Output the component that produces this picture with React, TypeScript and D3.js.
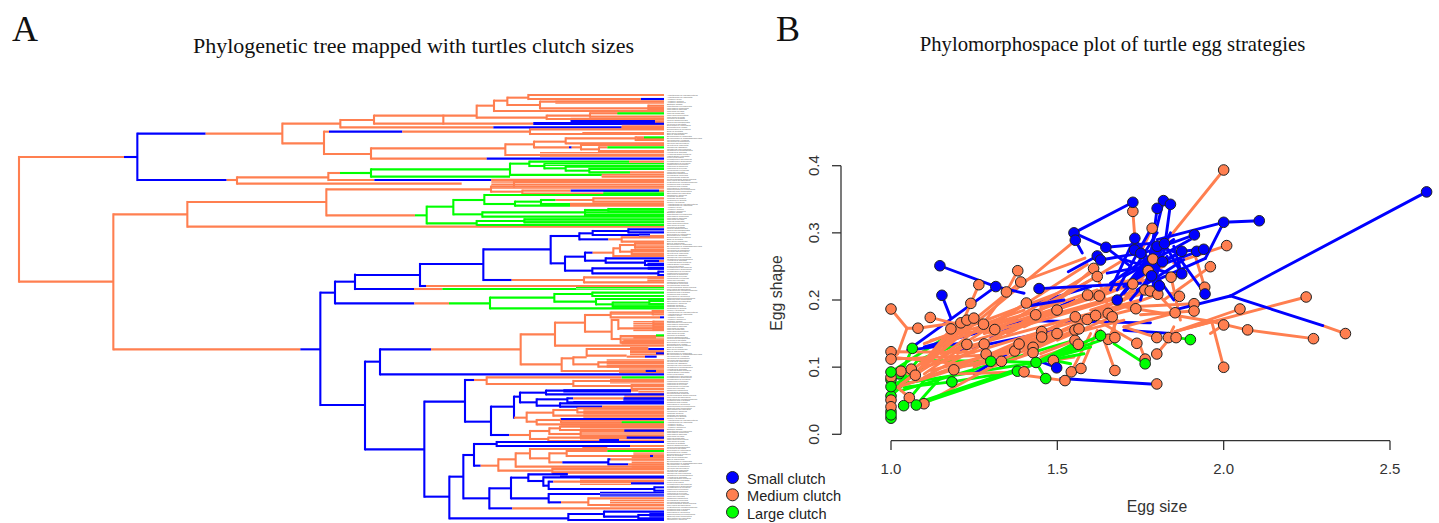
import React from "react";
import * as d3 from "d3";

type H = [number, number, number, string];
type V = [number, number, number, string];
type B = [number, number, number, number, string];
type E = [number, number, number, number];

const colors: Record<string, string> = { b: "#0000ff", o: "#ff7f50", g: "#00ff00" };

// --- Phylogeny: [row, depthStart, depthEnd, state] and [depth, rowStart, rowEnd, state]
const topH: H[] = [
  [216,-1023,-708,"o"],[216,-708,-668,"b"],[146,-668,-463,"b"],[146,-463,-233,"o"],[116,-233,-59,"o"],[175,-233,-108,"o"],
  [140,-108,-93,"o"],[140,-93,127,"b"],[140,127,510,"o"],[207,-108,33,"o"],[285,-668,-400,"b"],[285,-400,-369,"o"],
  [277,-369,-95,"o"],[264,-95,-60,"o"],[264,-60,33,"g"],[285,-95,43,"o"],[285,43,394,"b"],[285,394,912,"o"],[296,-369,305,"o"],
  [590,-1023,-740,"o"],[388,-740,-518,"o"],[351,-518,-101,"o"],[313,-101,393,"o"],[391,-101,165,"o"],[391,165,200,"g"],[425,-518,912,"o"],
  [793,-740,-179,"o"],[793,-179,-119,"b"],[623,-119,-75,"b"],[590,-75,-15,"b"],
  [105,-59,42,"o"],[127,-59,400,"o"],[127,400,785,"b"],[127,785,912,"o"],[92,42,350,"o"],[116,42,520,"o"],[116,520,912,"b"],
  [62,350,402,"o"],[47,402,442,"o"],[38,442,505,"o"],[30,505,912,"o"],[42,505,843,"o"],[42,843,912,"b"],[60,442,540,"o"],
  [50,540,912,"o"],[70,540,865,"o"],[62,865,912,"o"],[72,865,912,"o"],[78,402,912,"o"],[98,350,560,"o"],[92,560,690,"o"],
  [85,690,772,"o"],[85,772,912,"g"],[95,690,912,"o"],[102,560,912,"o"],[110,632,885,"b"],[110,885,912,"o"],
  [133,510,912,"o"],[147,510,912,"o"],[190,33,436,"o"],[178,436,522,"o"],[170,522,617,"o"],[160,617,827,"o"],
  [157,827,852,"o"],[157,852,912,"g"],[165,827,912,"o"],[175,617,912,"o"],[187,522,627,"o"],[187,627,635,"b"],[187,635,663,"o"],
  [180,663,912,"o"],[193,663,717,"o"],[187,717,742,"o"],[187,742,912,"g"],[198,717,912,"o"],[210,436,912,"o"],
  [221,33,380,"o"],[221,380,912,"b"],[264,33,0,"g"],[253,33,450,"g"],[236,450,508,"g"],[230,508,807,"g"],[230,807,912,"o"],
  [243,508,553,"g"],[250,553,617,"g"],[245,617,912,"g"],[257,617,688,"g"],[252,688,912,"g"],[262,688,810,"g"],[262,810,912,"o"],
  [270,450,725,"g"],[275,33,450,"g"],[275,725,912,"o"],[291,462,912,"o"],[305,393,912,"o"],[320,393,487,"o"],[317,487,632,"o"],
  [317,632,897,"b"],[317,897,912,"o"],[326,487,730,"o"],[326,730,912,"g"],[330,373,912,"g"],[365,200,280,"g"],[345,280,373,"g"],
  [357,373,465,"g"],[350,465,543,"g"],[345,543,587,"g"],[345,587,700,"o"],[340,700,912,"o"],[350,700,912,"o"],[357,543,630,"g"],
  [357,630,912,"o"],[362,465,630,"g"],[362,630,912,"o"],[388,280,367,"g"],[382,367,675,"g"],[375,675,745,"g"],[372,745,912,"g"],
  [380,745,912,"g"],[390,675,912,"g"],[395,367,912,"g"],[415,200,350,"g"],[408,350,493,"g"],[403,493,912,"g"],[412,493,912,"g"],[420,350,912,"g"],
];
const topV: V[] = [
  [-1023,216,590,"o"],[-668,146,285,"b"],[-233,116,175,"o"],[-59,105,127,"o"],[-108,140,207,"o"],[-369,277,296,"o"],[-95,264,285,"o"],
  [-740,388,793,"o"],[-518,351,425,"o"],[-101,313,391,"o"],[-119,623,960,"b"],[-75,590,655,"b"],[-15,569,612,"b"],
  [42,92,116,"o"],[250,92,116,"o"],[350,62,98,"o"],[402,47,78,"o"],[442,38,60,"o"],[505,30,42,"o"],[540,50,70,"o"],[865,62,72,"o"],
  [560,92,102,"o"],[690,85,95,"o"],[510,133,147,"o"],[33,190,221,"o"],[436,178,210,"o"],[522,170,187,"o"],[617,160,175,"o"],
  [827,157,165,"o"],[663,180,193,"o"],[717,187,198,"o"],[33,253,275,"g"],[450,236,270,"g"],[508,230,243,"g"],[553,238,250,"g"],
  [617,245,257,"g"],[688,252,262,"g"],[462,291,305,"o"],[393,305,320,"o"],[487,317,326,"o"],[200,365,415,"g"],[280,345,388,"g"],
  [373,330,357,"g"],[465,350,362,"g"],[543,345,357,"g"],[700,340,350,"o"],[367,382,395,"g"],[675,375,390,"g"],[745,372,380,"g"],
  [350,408,420,"g"],[493,403,412,"g"],
];
const topBlocks: B[] = [
  [44,56,586,912,"o"],[62,74,865,912,"o"],[80,90,690,912,"o"],[100,109,632,912,"o"],[107,113,632,885,"b"],[113,119,520,912,"b"],
  [120,135,785,912,"o"],[143,153,667,912,"o"],[160,170,830,912,"o"],[175,182,660,912,"o"],[203,218,540,912,"o"],[236,245,553,912,"g"],
  [268,273,450,725,"g"],[268,278,725,912,"o"],[283,312,394,912,"o"],[320,332,730,912,"g"],[355,365,630,912,"o"],[378,395,675,912,"g"],[403,412,493,912,"g"],
];

const midH: H[] = [
  [150,-15,180,"b"],[117,180,370,"b"],[73,370,572,"b"],[33,572,658,"b"],[25,658,698,"b"],[18,698,805,"b"],[13,805,912,"b"],[22,805,912,"b"],
  [30,698,837,"b"],[33,870,912,"o"],[43,658,745,"b"],[43,745,785,"o"],[37,785,912,"o"],[50,785,912,"o"],[115,572,615,"b"],[95,615,675,"b"],
  [83,675,698,"b"],[83,698,760,"o"],[70,760,780,"o"],[60,780,825,"o"],[55,825,912,"o"],[68,825,912,"o"],[80,780,815,"o"],[75,815,912,"o"],
  [87,815,912,"o"],[93,760,912,"o"],[107,675,737,"b"],[100,737,912,"b"],[113,737,855,"b"],[108,855,897,"b"],[108,897,912,"o"],[120,855,912,"b"],
  [137,615,697,"b"],[130,697,912,"b"],[145,697,895,"b"],[140,895,912,"b"],[150,895,912,"b"],[165,370,455,"b"],[165,455,672,"o"],[157,672,912,"o"],
  [172,672,912,"o"],[183,180,198,"b"],[183,198,912,"o"],[192,-15,162,"b"],[192,162,247,"o"],[192,247,648,"g"],
  [235,-75,163,"b"],[235,163,267,"o"],[235,267,390,"g"],[218,390,583,"g"],[207,583,697,"g"],[203,697,912,"g"],[213,697,912,"g"],[230,583,708,"g"],
  [222,708,912,"g"],[238,708,758,"g"],[233,758,868,"g"],[228,868,912,"g"],[237,868,912,"g"],[245,758,912,"g"],[250,390,912,"g"],
  [410,15,60,"b"],[373,60,213,"b"],[373,213,482,"o"],[328,482,585,"o"],[293,585,675,"o"],[270,675,752,"o"],[263,752,878,"o"],[258,878,912,"o"],
  [268,878,912,"o"],[277,752,900,"o"],[277,900,912,"b"],[320,675,755,"o"],[285,755,775,"o"],[310,775,880,"o"],[290,880,912,"o"],[298,880,912,"o"],
  [306,880,912,"o"],[315,880,912,"o"],[342,755,782,"o"],[333,782,888,"o"],[331,888,912,"g"],[338,820,888,"o"],[353,782,912,"o"],[347,790,912,"o"],
  [362,585,912,"o"],[418,482,605,"o"],[400,605,640,"o"],[397,640,680,"o"],[372,680,865,"o"],[372,865,912,"b"],[392,680,800,"o"],[380,810,912,"o"],
  [385,888,912,"b"],[395,800,855,"o"],[395,855,890,"b"],[418,640,715,"o"],[412,715,912,"o"],[425,715,912,"o"],[438,605,857,"o"],[438,857,888,"b"],
  [438,888,912,"o"],[448,60,912,"b"],
];
const midV: V[] = [
  [180,117,183,"b"],[370,73,165,"b"],[572,33,115,"b"],[658,25,43,"b"],[698,18,30,"b"],[805,13,22,"b"],[785,37,50,"o"],[615,95,137,"b"],[675,83,107,"b"],
  [760,70,93,"o"],[780,60,80,"o"],[825,55,68,"o"],[815,75,87,"o"],[737,100,113,"b"],[855,108,120,"b"],[697,130,145,"b"],[895,140,150,"b"],[672,157,172,"o"],
  [390,218,250,"g"],[583,207,230,"g"],[697,203,213,"g"],[708,222,238,"g"],[758,233,245,"g"],[868,228,237,"g"],[482,328,418,"o"],[585,293,362,"o"],
  [675,270,320,"o"],[752,263,277,"o"],[878,258,268,"o"],[755,285,342,"o"],[775,285,312,"o"],[782,333,353,"o"],[880,290,315,"o"],[605,400,438,"o"],
  [640,397,418,"o"],[680,372,392,"o"],[715,412,425,"o"],[60,373,448,"b"],
];
const midBlocks: B[] = [
  [28,36,837,870,"b"],[55,68,825,912,"o"],[75,87,815,912,"o"],[115,125,862,912,"b"],[127,134,863,912,"b"],[156,174,862,912,"o"],[187,197,648,912,"g"],
  [240,248,758,912,"g"],[262,272,752,912,"o"],[290,320,820,912,"o"],[334,362,785,912,"o"],[368,378,810,865,"o"],[378,392,810,912,"o"],
  [405,428,740,912,"o"],[432,444,777,912,"o"],
];

const lowH: H[] = [
  [105,-119,15,"b"],[238,15,193,"b"],[95,193,315,"b"],[30,315,342,"b"],[30,342,380,"o"],[22,380,785,"o"],[22,785,912,"g"],[42,380,640,"o"],[33,640,912,"o"],
  [48,640,815,"o"],[45,815,912,"o"],[57,815,912,"o"],[155,315,393,"b"],[110,393,462,"b"],[80,462,480,"b"],[68,480,558,"b"],[62,558,813,"b"],[62,813,835,"o"],
  [73,558,912,"b"],[97,480,530,"b"],[88,530,622,"b"],[85,622,640,"b"],[85,640,790,"o"],[85,790,912,"b"],[97,622,912,"b"],[107,530,600,"b"],[100,600,912,"b"],
  [110,600,727,"b"],[110,727,912,"o"],[143,462,500,"o"],[128,500,580,"o"],[120,580,652,"o"],[115,652,912,"o"],[127,652,912,"o"],[137,580,912,"o"],[155,500,530,"o"],
  [150,530,603,"o"],[147,603,912,"b"],[157,603,785,"o"],[157,785,912,"g"],[163,530,912,"o"],[195,393,448,"b"],[195,448,510,"o"],[183,510,568,"o"],[175,568,600,"o"],
  [170,600,912,"o"],[180,600,912,"o"],[192,568,662,"o"],[182,662,793,"o"],[182,793,912,"b"],[198,662,912,"o"],[207,510,565,"o"],[203,565,800,"o"],[203,800,912,"b"],
  [213,565,718,"o"],[213,718,777,"b"],[213,777,912,"o"],[380,193,268,"b"],[320,268,310,"b"],[255,310,342,"b"],[222,342,410,"b"],[216,410,912,"b"],[228,410,810,"b"],
  [228,810,912,"o"],[287,342,362,"b"],[287,362,415,"o"],[268,415,467,"o"],[250,467,510,"o"],[237,510,912,"o"],[265,510,568,"o"],[250,568,620,"o"],[243,620,742,"o"],
  [243,742,912,"g"],[258,620,870,"o"],[258,870,880,"b"],[258,880,912,"o"],[277,568,607,"o"],[277,607,745,"b"],[268,745,752,"b"],[268,752,912,"o"],[283,745,805,"b"],
  [283,805,912,"o"],[290,467,912,"o"],[302,415,577,"o"],[296,577,912,"o"],[308,577,912,"o"],[312,577,623,"b"],[385,310,388,"b"],[355,388,453,"b"],[323,453,505,"b"],
  [313,505,623,"b"],[320,600,912,"b"],[333,505,550,"b"],[322,550,912,"b"],[347,550,566,"b"],[335,566,580,"b"],[335,580,912,"o"],[340,813,912,"b"],[357,566,883,"b"],
  [352,883,912,"b"],[362,883,912,"b"],[385,453,566,"b"],[372,566,720,"b"],[397,566,603,"b"],[397,603,685,"o"],[385,685,912,"o"],[405,685,912,"o"],[415,388,457,"b"],
  [415,457,912,"o"],[445,268,625,"b"],[432,625,732,"b"],[425,732,912,"b"],[440,732,835,"b"],[435,835,912,"b"],[445,835,912,"b"],[450,625,912,"b"],
];
const lowV: V[] = [
  [15,-25,238,"b"],[193,95,380,"b"],[315,30,155,"b"],[380,22,42,"o"],[640,33,48,"o"],[815,45,57,"o"],[393,110,195,"b"],[462,80,143,"b"],[480,68,97,"b"],[558,62,73,"b"],
  [530,88,107,"b"],[622,85,97,"b"],[600,100,110,"b"],[500,128,155,"o"],[580,120,137,"o"],[652,115,127,"o"],[530,150,163,"o"],[603,147,157,"o"],[510,183,207,"o"],
  [568,175,192,"o"],[600,170,180,"o"],[662,182,198,"o"],[565,203,213,"o"],[268,320,445,"b"],[310,255,385,"b"],[342,222,287,"b"],[410,216,228,"b"],[415,268,302,"o"],
  [467,250,290,"o"],[510,237,265,"o"],[568,250,277,"o"],[620,243,258,"o"],[745,268,283,"b"],[577,296,308,"o"],[388,355,415,"b"],[453,323,385,"b"],[505,313,333,"b"],
  [550,322,347,"b"],[566,335,357,"b"],[883,352,362,"b"],[566,372,397,"b"],[685,385,405,"o"],[625,432,450,"b"],[732,425,440,"b"],[835,435,445,"b"],
];
const lowBlocks: B[] = [
  [28,42,750,912,"o"],[50,60,815,912,"o"],[60,70,610,813,"b"],[64,72,835,912,"o"],[78,84,793,912,"o"],[90,100,790,912,"b"],[95,100,640,912,"b"],[120,145,670,912,"o"],
  [152,168,603,912,"o"],[168,215,660,912,"o"],[208,217,718,777,"b"],[232,244,667,742,"o"],[244,256,820,912,"o"],[262,294,815,912,"o"],[298,312,577,912,"o"],[326,334,660,912,"o"],
  [338,346,660,813,"o"],[392,412,750,912,"o"],[367,380,720,912,"b"],[430,445,868,912,"b"],
];

const tipNames = [
  "Acanthochelys pallidipectoris","Acanthochelys radiolata","Apalone ferox","Apalone mutica","Apalone spinifera","Batagur baska","Carettochelys insculpta",
  "Chelodina longicollis","Chelodina oblonga","Chelonia mydas","Chelus fimbriata","Chelydra serpentina","Chrysemys picta","Clemmys guttata","Cuora amboinensis",
  "Cuora flavomarginata","Cyclemys dentata","Deirochelys reticularia","Dermatemys mawii","Dermochelys coriacea","Elseya dentata","Emydura macquarii","Emys orbicularis",
  "Eretmochelys imbricata","Erymnochelys madagascariensis","Geochelone elegans","Geoclemys hamiltonii","Geoemyda spengleri","Glyptemys insculpta","Gopherus agassizii",
  "Gopherus polyphemus","Graptemys geographica","Heosemys grandis","Hydromedusa tectifera","Indotestudo elongata","Kinixys belliana","Kinosternon flavescens",
  "Kinosternon subrubrum","Lepidochelys olivacea","Malaclemys terrapin","Mauremys japonica","Mauremys reevesii","Melanochelys trijuga","Morenia ocellata",
  "Nilssonia gangetica","Pelodiscus sinensis","Pelomedusa subrufa","Peltocephalus dumerilianus","Phrynops geoffroanus","Platysternon megacephalum","Podocnemis expansa",
  "Podocnemis unifilis","Pseudemys concinna","Rhinoclemmys punctularia","Staurotypus triporcatus","Sternotherus odoratus","Terrapene carolina","Testudo graeca",
  "Testudo hermanni","Trachemys scripta","Trionyx triunguis",
];
const tipCount = 240;

// --- Phylomorphospace values: egg size, egg shape
const bluePoints: [number, number][] = [
  [1.147,.251],[1.315,.22],[1.445,.217],[1.153,.207],[1.68,.2],[1.498,.099],[1.55,.3],[1.554,.289],[1.727,.3455],[1.646,.2785],[1.733,.292],[1.732,.2745],[1.751,.2695],
  [1.62,.2656],[1.63,.2596],[1.819,.348],[1.84,.3425],[1.8,.3365],[2.0,.3157],[2.107,.318],[2.61,.361],[1.912,.297],[1.8,.28],[1.822,.284],[1.874,.2725],[1.919,.2725],
  [1.94,.2755],[1.816,.257],[1.874,.239],[1.783,.236],[1.807,.221],[1.944,.209],
];
const orangePoints: [number, number][] = [
  [1,.1866],[1.118,.174],[1.081,.158],[1.18,.157],[1.21,.166],[1.228,.17],[1.249,.173],[1.278,.164],[1.312,.156],[1.407,.1955],[1.435,.178],[1.499,.185],[1.554,.175],[1.59,.171],
  [1.615,.177],[1.653,.18],[1.665,.175],[1.736,.187],[1.591,.2075],[1.626,.206],[1.24,.195],[1.347,.212],[1.228,.134],[1.28,.1345],[1.286,.1196],[1.332,.1087],[1.372,.124],
  [1.385,.1345],[1.427,.1296],[1.427,.1215],[1.453,.153],[1.453,.145],[1.499,.15],[1.553,.155],[1.565,.157],[1.553,.14],[1.563,.134],[1.488,.11],[1.542,.093],[1.571,.098],[1.523,.08],
  [1.4,.093],[1.673,.095],[1.653,.1415],[1.673,.144],[1.739,.1355],[1.764,.112],[1,.123],[1,.112],[1.03,.094],[1.061,.097],[1.073,.088],[1.189,.096],[1.055,.0545],[1.099,.0455],
  [1,.085],[1,.051],[1,.041],[1.381,.2436],[1.39,.2268],[1.264,.2228],[1.609,.247],[1.62,.235],[1.727,.332],[1.727,.224],[1.763,.215],[1.779,.2134],[1.785,.3068],[1.773,.2436],
  [2.0,.3936],[2.009,.281],[1.787,.261],[1.96,.2496],[1.842,.234],[1.943,.219],[1.802,.2085],[1.867,.2055],[1.911,.1945],[1.911,.1836],[1.854,.181],[2.049,.1866],[2.248,.2045],
  [2.0,.1628],[2.072,.1555],[2.366,.15],[2.27,.1424],[1.834,.144],[1.857,.144],[1.799,.144],[1.799,.1196],[2.0,.0998],[1.799,.075],
];
const greenBackPoints: [number, number][] = [[1.024,.09],[1.38,.094],[1,.081],[1,.057],[1,.024],[1,.034]];
const greenPoints: [number, number][] = [
  [1.064,.128],[1,.0928],[1,.071],[1,.029],[1.038,.0426],[1.076,.0436],[1.183,.078],[1.3,.1087],[1.436,.107],[1.465,.083],[1.63,.147],[1.764,.105],[1.9,.141],
];

const blueLowEdges: E[] = [
  [1.32,.17,1.78,.166],[1.51,.083,1.78,.075],[1.5,.099,1.44,.11],[1.2,.125,1.5,.155],[1.3,.145,1.55,.2],[1.1,.13,1.4,.17],[1.7,.155,1.85,.15],[1.25,.09,1.35,.12],[1.4,.19,1.6,.22],
  [1.315,.22,1.05,.125],[1.153,.207,1.18,.173],[1.05,.125,1.2,.135],
];
const greenBackEdges: E[] = [
  [1,.0928,1.15,.14],[1.03,.075,1.436,.107],[1.03,.065,1.55,.14],[1.183,.078,1.38,.094],[1.04,.07,1.183,.078],[1,.06,1.08,.11],[1.08,.11,1.3,.1087],[1.08,.11,1.23,.14],
  [1.03,.09,1.064,.128],[1,.071,1.1,.1],[1,.057,1.05,.08],[1.038,.0426,1.1,.08],
];
const orangeEdges: E[] = [
  [1.02,.07,1.55,.287],[1.03,.075,1.59,.253],[1.583,.2625,1.39,.2268],[1.05,.09,1.39,.2268],[1.264,.2228,1.24,.195],[1.24,.195,1.2,.15],[1.347,.212,1.381,.2436],[1.347,.212,1.27,.16],
  [1.048,.158,1,.1866],[1.048,.158,1.081,.158],[1.048,.158,1.02,.12],[1.02,.12,1,.123],[1.02,.12,1,.112],[1,.123,1.25,.122],[1,.112,1.3,.118],[1,.115,1.2,.105],[1.118,.174,1.23,.16],
  [1.081,.158,1.25,.17],[1.18,.157,1.12,.12],[1.21,.166,1.09,.105],[1.228,.17,1.07,.09],[1.249,.173,1.1,.1],[1.278,.164,1.4,.185],[1.278,.164,1.15,.115],[1.312,.156,1.2,.15],
  [1.407,.1955,1.3,.165],[1.435,.178,1.3,.14],[1.499,.185,1.35,.15],[1.554,.175,1.4,.14],[1.59,.171,1.42,.135],[1.615,.177,1.45,.14],[1.653,.18,1.5,.15],[1.665,.175,1.5,.14],
  [1.736,.187,1.6,.17],[1.591,.2075,1.4,.16],[1.626,.206,1.4,.17],[1.228,.134,1.1,.09],[1.28,.1345,1.1,.085],[1.286,.1196,1.2,.1],[1.332,.1087,1.2,.1],[1.372,.124,1.5,.15],
  [1.385,.1345,1.25,.1],[1.427,.1296,1.3,.105],[1.427,.1215,1.3,.1],[1.453,.153,1.3,.12],[1.453,.145,1.3,.115],[1.499,.15,1.35,.12],[1.553,.155,1.4,.125],[1.565,.157,1.4,.12],
  [1.553,.14,1.45,.12],[1.563,.134,1.45,.115],[1.488,.11,1.55,.115],[1.542,.093,1.6,.15],[1.571,.098,1.62,.155],[1.523,.08,1.4,.088],[1.4,.093,1.2,.09],[1.1,.0455,1.3,.1],
  [1.055,.0545,1.02,.07],[1.673,.095,1.63,.155],[1.653,.1415,1.68,.17],[1.673,.144,1.67,.17],[1.739,.1355,1.62,.17],[1.764,.112,1.75,.13],[1.854,.153,1.964,.168],
  [1.854,.153,2.248,.2045],[1.854,.153,2.049,.1866],[1.7,.19,1.964,.168],[1.964,.168,2,.0998],[1.964,.168,2.07,.1555],[2.07,.1555,2.27,.1424],[2,.1628,1.96,.15],
  [2.298,.162,2.366,.15],[1.75,.178,1.911,.1836],[1.72,.19,1.911,.1945],[1.854,.181,1.7,.16],[1.8,.21,1.854,.181],[1.799,.144,1.7,.16],[1.834,.144,1.85,.16],[1.857,.144,1.854,.153],
  [1.799,.1196,1.85,.15],[2,.3936,1.75,.24],[2.009,.281,1.85,.255],[1.96,.2496,1.82,.2],[1.842,.234,1.87,.17],[1.943,.219,1.915,.265],[1.867,.2055,1.84,.21],[1.727,.332,1.733,.292],
  [1.785,.3068,1.75,.27],[1.773,.2436,1.7,.2],[1.787,.261,1.7,.2],[1.727,.224,1.6,.2],[1.763,.215,1.6,.18],[1.779,.2134,1.6,.185],[1.802,.2085,1.65,.18],[1.609,.247,1.5,.2],
  [1.62,.235,1.45,.19],[1.62,.235,1.66,.18],[1.4,.17,1.7,.26],[1.3,.15,1.6,.24],[1.2,.12,1.7,.23],[1.15,.12,1.75,.2],[1.1,.1,1.7,.19],[1.12,.095,1.7,.17],[1.02,.07,1.5,.155],[1.05,.075,1.6,.16],
  [1.1,.135,1.5,.21],[1.18,.14,1.62,.215],[1.25,.14,1.66,.2],[1.28,.15,1.75,.215],[1.32,.16,1.8,.235],[1.42,.17,1.82,.25],[1.12,.14,1.45,.185],
];
const blueEdges: E[] = [
  [2.61,.361,2.02,.206],[2.02,.206,1.85,.185],[2.02,.206,2.298,.162],[2.107,.318,2,.3157],[2,.3157,1.8,.29],[2,.3157,1.945,.262],[1.945,.262,1.8,.23],[1.912,.297,1.76,.27],
  [1.84,.3425,1.82,.27],[1.819,.348,1.78,.27],[1.8,.3365,1.78,.26],[1.727,.3455,1.55,.3],[1.55,.3,1.646,.2785],[1.646,.2785,1.8,.285],[1.646,.2785,1.72,.25],[1.554,.289,1.575,.27],
  [1.147,.251,1.315,.22],[1.445,.217,1.75,.225],[1.62,.2656,1.533,.242],[1.63,.2596,1.75,.27],[1.68,.2,1.76,.25],[1.7,.21,1.82,.28],[1.66,.215,1.73,.29],[1.75,.2745,1.8,.21],
  [1.751,.2695,1.85,.2],[1.733,.292,1.8,.24],[1.72,.23,1.8,.28],[1.7,.22,1.874,.2725],[1.783,.236,1.816,.257],[1.807,.221,1.78,.27],[1.8,.28,1.75,.2],[1.822,.284,1.874,.239],
  [1.874,.239,1.85,.28],[1.874,.2725,1.94,.2755],[1.8,.25,1.94,.2755],[1.944,.209,1.87,.26],[1.8,.28,1.86,.27],[1.75,.24,1.874,.2725],
  [1.66,.225,1.85,.29],[1.68,.215,1.78,.305],[1.7,.235,1.9,.29],[1.72,.2,1.83,.265],[1.74,.215,1.88,.26],[1.65,.24,1.82,.255],[1.7,.26,1.87,.235],[1.73,.245,1.8,.3],[1.76,.22,1.84,.3],[1.78,.21,1.82,.27],
  [1.315,.22,1.4,.21],[1.4,.19,1.52,.2],
];
const greenEdges: E[] = [
  [1.076,.0436,1.38,.094],[1.099,.05,1.38,.097],[1.38,.094,1.56,.13],[1.436,.107,1.465,.083],[1.3,.1087,1.436,.107],[1.436,.107,1.63,.147],[1.436,.107,1.63,.14],[1.436,.107,1.6,.13],
  [1.436,.107,1.58,.12],[1.436,.107,1.55,.135],[1.488,.11,1.54,.105],[1.764,.105,1.67,.135],[1.9,.141,1.86,.144],[1.076,.0436,1.15,.085],
];

const xTicks = [1.0, 1.5, 2.0, 2.5];
const yTicks = [0.0, 0.1, 0.2, 0.3, 0.4];
const legendLabels = ["Small clutch", "Medium clutch", "Large clutch"];
const legendStates = ["b", "o", "g"];

const depth = d3.scaleLinear().domain([-1023, 912]).range([19, 664]);
const rowTop = d3.scaleLinear().domain([0, 450]).range([85, 235]);
const rowMid = d3.scaleLinear().domain([0, 450]).range([225, 375]);
const rowLow = d3.scaleLinear().domain([0, 450]).range([370, 520]);
const tipY = d3.scaleLinear().domain([0, tipCount - 1]).range([95.5, 519.5]);
const xS = d3.scaleLinear().domain([1, 2.5]).range([891, 1390]);
const yS = d3.scaleLinear().domain([0, 0.4]).range([434.3, 165.7]);

const SANS = "'Liberation Sans', Arial, sans-serif";
const SERIF = "'Liberation Serif', 'Times New Roman', serif";
const TREE_W = 2.1;
const TIP_STEP = 1.76;

function TreeSection({ h, v, blocks, row }: { h: H[]; v: V[]; blocks: B[]; row: d3.ScaleLinear<number, number> }) {
  return (
    <g>
      {blocks.map((b, i) => (
        <g key={i} stroke={colors[b[4]]} strokeWidth={1.35}>
          {d3.range(row(b[0]), row(b[1]) + 0.01, TIP_STEP).map((y, j) => (
            <line key={j} x1={depth(b[2])} x2={depth(b[3])} y1={y} y2={y} />
          ))}
        </g>
      ))}
      {v.map((s, i) => (
        <line key={i} x1={depth(s[0])} x2={depth(s[0])} y1={row(s[1]) - TREE_W / 2} y2={row(s[2]) + TREE_W / 2} stroke={colors[s[3]]} strokeWidth={TREE_W} />
      ))}
      {h.map((s, i) => (
        <line key={i} x1={depth(s[1])} x2={depth(s[2])} y1={row(s[0])} y2={row(s[0])} stroke={colors[s[3]]} strokeWidth={TREE_W} />
      ))}
    </g>
  );
}

function Edges({ data, state }: { data: E[]; state: string }) {
  return (
    <g stroke={colors[state]} strokeWidth={2.9} strokeLinecap="round">
      {data.map((e, i) => (
        <line key={i} x1={xS(e[0])} y1={yS(e[1])} x2={xS(e[2])} y2={yS(e[3])} />
      ))}
    </g>
  );
}

function Points({ data, state }: { data: [number, number][]; state: string }) {
  return (
    <g fill={colors[state]} stroke="#222" strokeWidth={1}>
      {data.map((p, i) => (
        <circle key={i} cx={xS(p[0])} cy={yS(p[1])} r={5.3} />
      ))}
    </g>
  );
}

export default function App() {
  return (
    <svg width={1439} height={523} style={{ position: "absolute", left: 0, top: 0, background: "#fff" }}>
      <text x={12} y={41} fontFamily={SERIF} fontSize={36} fill="#111">A</text>
      <text x={776} y={41} fontFamily={SERIF} fontSize={36} fill="#111">B</text>
      <text x={413.5} y={53} textAnchor="middle" fontFamily={SERIF} fontSize={22} fill="#111">Phylogenetic tree mapped with turtles clutch sizes</text>
      <text x={1112.5} y={51} textAnchor="middle" fontFamily={SERIF} fontSize={20.7} fill="#111">Phylomorphospace plot of turtle egg strategies</text>

      <TreeSection h={topH} v={topV} blocks={topBlocks} row={rowTop} />
      <TreeSection h={midH} v={midV} blocks={midBlocks} row={rowMid} />
      <TreeSection h={lowH} v={lowV} blocks={lowBlocks} row={rowLow} />

      <g fontFamily={SANS} fontSize={2.4} fill="#666">
        {d3.range(tipCount).map((i) => (
          <text key={i} x={667} y={tipY(i) + 0.8}>{tipNames[i % tipNames.length]}</text>
        ))}
      </g>

      {legendLabels.map((label, i) => (
        <g key={label}>
          <circle cx={732.5} cy={477.5 + i * 17.3} r={6} fill={colors[legendStates[i]]} stroke="#222" strokeWidth={1} />
          <text x={747} y={484 + i * 17.3} fontFamily={SANS} fontSize={14.6} fill="#222">{label}</text>
        </g>
      ))}

      <Edges data={greenBackEdges} state="g" />
      <Edges data={blueLowEdges} state="b" />
      <Edges data={orangeEdges} state="o" />
      <Edges data={blueEdges} state="b" />
      <Edges data={greenEdges} state="g" />
      <Points data={greenBackPoints} state="g" />
      <Points data={orangePoints} state="o" />
      <Points data={bluePoints} state="b" />
      <Points data={greenPoints} state="g" />

      <g stroke="#333" strokeWidth={1.3} fill="none">
        <line x1={xS(1)} x2={xS(2.5)} y1={440.7} y2={440.7} />
        {xTicks.map((t) => (
          <line key={t} x1={xS(t)} x2={xS(t)} y1={440.7} y2={450} />
        ))}
        <line x1={841} x2={841} y1={yS(0)} y2={yS(0.4)} />
        {yTicks.map((t) => (
          <line key={t} x1={832} x2={841} y1={yS(t)} y2={yS(t)} />
        ))}
      </g>
      <g fontFamily={SANS} fontSize={15} fill="#333">
        {xTicks.map((t) => (
          <text key={t} x={xS(t)} y={474} textAnchor="middle">{t.toFixed(1)}</text>
        ))}
        {yTicks.map((t) => (
          <text key={t} transform={`translate(818.5,${yS(t)}) rotate(-90)`} textAnchor="middle">{t.toFixed(1)}</text>
        ))}
        <text x={1157} y={512} textAnchor="middle" fontSize={15.8}>Egg size</text>
        <text transform="translate(782,293) rotate(-90)" textAnchor="middle" fontSize={15.8}>Egg shape</text>
      </g>
    </svg>
  );
}
